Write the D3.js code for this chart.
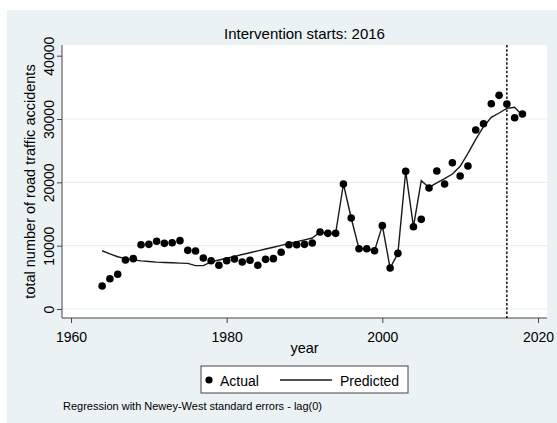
<!DOCTYPE html>
<html>
<head>
<meta charset="utf-8">
<script src="https://cdn.jsdelivr.net/npm/d3@7"></script>
<style>
  html, body { margin: 0; padding: 0; background: #ffffff; }
  svg { display: block; }
  text { font-family: "Liberation Sans", Arial, sans-serif; fill: #000; }
</style>
</head>
<body>
<svg id="chart" width="557" height="423"></svg>
<script>
// ---- Data ----
const years = [1964,1965,1966,1967,1968,1969,1970,1971,1972,1973,1974,1975,1976,1977,1978,1979,1980,
  1981,1982,1983,1984,1985,1986,1987,1988,1989,1990,1991,1992,1993,1994,1995,1996,1997,1998,1999,2000,
  2001,2002,2003,2004,2005,2006,2007,2008,2009,2010,2011,2012,2013,2014,2015,2016,2017,2018];

const actual = [3630,4780,5480,7740,7950,10150,10210,10690,10370,10470,10790,9260,9160,8050,7630,6900,7630,
  7900,7420,7690,6900,7840,7950,8950,10150,10150,10210,10420,12160,11950,11950,19740,14370,9520,9520,9210,13160,
  6470,8790,21740,13000,14160,19100,21790,19740,23100,21000,22580,28260,29260,32420,33740,32370,30210,30790];

const predicted = [9200,8700,8250,7950,7750,7600,7500,7400,7350,7300,7250,7200,6850,6850,7440,7730,8020,
  8310,8600,8890,9180,9470,9760,10050,10340,10630,10920,11210,12160,11950,11950,19740,14370,9520,9520,9210,13160,
  6470,8790,21740,13000,20260,19200,19900,20580,21320,22530,24580,26790,28780,30260,30950,31690,31850,30550];

const xTicks = [1960, 1980, 2000, 2020];
const yTicks = [0, 10000, 20000, 30000, 40000];
const yGrid = [0, 10000, 20000, 30000];
const interventionYear = 2016;
const titleText = "Intervention starts: 2016";
const xTitle = "year";
const yTitle = "total number of road traffic accidents";
const legendLabels = ["Actual", "Predicted"];
const noteText = "Regression with Newey-West standard errors - lag(0)";

// ---- Layout ----
const svg = d3.select("#chart");
const W = 557, H = 423;
const plot = { left: 62, right: 547, top: 45, bottom: 318 };

const x = d3.scaleLinear().domain([1960, 2020]).range([71, 538]);
const y = d3.scaleLinear().domain([0, 40000]).range([309, 55.7]);

// graph region background
svg.append("rect").attr("x", 7).attr("y", 10).attr("width", W - 7).attr("height", H - 10)
  .attr("fill", "#eaf2f3");
// plot region
svg.append("rect").attr("x", plot.left).attr("y", plot.top)
  .attr("width", plot.right - plot.left).attr("height", plot.bottom - plot.top)
  .attr("fill", "#ffffff");

// gridlines
svg.append("g").selectAll("line").data(yGrid).join("line")
  .attr("x1", plot.left).attr("x2", plot.right)
  .attr("y1", d => y(d)).attr("y2", d => y(d))
  .attr("stroke", "#e4eef0").attr("stroke-width", 1);

// axes
const yAxis = d3.axisLeft(y).tickValues(yTicks).tickSize(5).tickFormat(d3.format("d"));
const gy = svg.append("g").attr("transform", `translate(${plot.left},0)`).call(yAxis);
gy.select(".domain").attr("d", `M0,${plot.top}V${plot.bottom}`).attr("stroke", "#444");
gy.selectAll(".tick line").attr("stroke", "#444");
gy.selectAll(".tick text")
  .attr("x", 0).attr("dy", null).attr("y", 0)
  .attr("transform", "translate(-8.5,0) rotate(-90)")
  .attr("text-anchor", "middle")
  .style("font-size", "14px").style("font-family", "Liberation Sans, Arial, sans-serif").attr("fill", "#000");

const xAxis = d3.axisBottom(x).tickValues(xTicks).tickSize(5).tickFormat(d3.format("d"));
const gx = svg.append("g").attr("transform", `translate(0,${plot.bottom})`).call(xAxis);
gx.select(".domain").attr("d", `M${plot.left},0H${plot.right}`).attr("stroke", "#444");
gx.selectAll(".tick line").attr("stroke", "#444");
gx.selectAll(".tick text").attr("y", 23.7).attr("dy", null)
  .style("font-size", "14px").style("font-family", "Liberation Sans, Arial, sans-serif").attr("fill", "#000");

// intervention line
svg.append("line")
  .attr("x1", x(interventionYear)).attr("x2", x(interventionYear))
  .attr("y1", plot.top).attr("y2", plot.bottom)
  .attr("stroke", "#000").attr("stroke-width", 1.4).attr("stroke-dasharray", "2.5,1.8");

// predicted line
const line = d3.line().x((d, i) => x(years[i])).y(d => y(d));
svg.append("path").datum(predicted).attr("d", line)
  .attr("fill", "none").attr("stroke", "#1a1a1a").attr("stroke-width", 1.4);

// actual dots
svg.append("g").selectAll("circle").data(actual).join("circle")
  .attr("cx", (d, i) => x(years[i])).attr("cy", d => y(d)).attr("r", 3.8)
  .attr("fill", "#000");

// title
svg.append("text").attr("x", (plot.left + plot.right) / 2).attr("y", 39)
  .attr("text-anchor", "middle").style("font-size", "15px").text(titleText);

// axis titles
svg.append("text").attr("x", (plot.left + plot.right) / 2).attr("y", 352.5)
  .attr("text-anchor", "middle").style("font-size", "14.5px").text(xTitle);
svg.append("text")
  .attr("transform", `translate(35,${(plot.top + plot.bottom) / 2}) rotate(-90)`)
  .attr("text-anchor", "middle").style("font-size", "14.5px").text(yTitle);

// legend
const lg = svg.append("g");
lg.append("rect").attr("x", 201).attr("y", 366).attr("width", 207).attr("height", 27)
  .attr("fill", "#fff").attr("stroke", "#444").attr("stroke-width", 1);
lg.append("circle").attr("cx", 209).attr("cy", 380).attr("r", 3.6).attr("fill", "#000");
lg.append("text").attr("x", 220).attr("y", 386).style("font-size", "14px").text(legendLabels[0]);
lg.append("line").attr("x1", 280).attr("x2", 332).attr("y1", 380).attr("y2", 380)
  .attr("stroke", "#1a1a1a").attr("stroke-width", 1.4);
lg.append("text").attr("x", 340).attr("y", 386).style("font-size", "14px").text(legendLabels[1]);

// note
svg.append("text").attr("x", 63).attr("y", 409.5).style("font-size", "11px").attr("fill", "#222").text(noteText);
</script>
</body>
</html>
